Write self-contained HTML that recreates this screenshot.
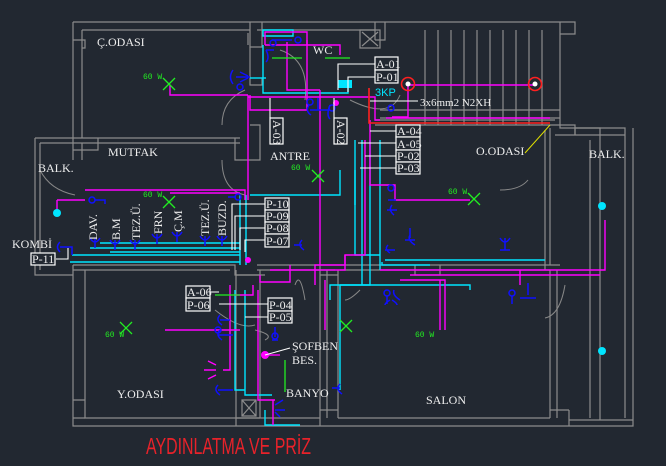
<!DOCTYPE html>
<html><head><meta charset="utf-8"><style>
html,body{margin:0;padding:0;background:#222831;}
svg{display:block}
.w{fill:none;stroke:#8c8c8c;stroke-width:1.2}
.m{fill:none;stroke:#ff00ff;stroke-width:1.4}
.c{fill:none;stroke:#00e5ff;stroke-width:1.4}
.b{fill:none;stroke:#1010ff;stroke-width:1.5}
.wt{fill:none;stroke:#fff;stroke-width:1.1}
.lb{fill:#222831;stroke:#fff;stroke-width:1.2}
text{font-family:"Liberation Serif",serif;fill:#eee;font-size:12px}
.bx{font-size:12px}
.g{font-family:"Liberation Mono",monospace;fill:#22ee22;font-size:8px}
</style></head><body>
<svg width="666" height="466" viewBox="0 0 666 466" xmlns="http://www.w3.org/2000/svg">
<rect width="666" height="466" fill="#222831"/>
<g class="w">
<path d="M73 22H575V34H560"/>
<path d="M82 30H250M257 30H375"/>
<path d="M73 22V138M82 30V138"/>
<path d="M73 40H85V48H82"/>
<path d="M250 22V47H262V22"/>
<path d="M250 47V85H262V78"/>
<path d="M35 138H240M40 143H240M73 138V160M82 143V160"/>
<path d="M35 138V275H73M40 143V270"/>
<path d="M73 150H98V138M235 138V160H260V125H250"/>
<path d="M73 265H235V275H265M73 270H230"/>
<path d="M73 265V426H633V128M85 270V418H320"/>
<path d="M73 400H85M73 418H85"/>
<path d="M236 270V426M260 275V418M236 418H260"/>
<path d="M236 275H260V270"/>
<path d="M248 33V45M375 22V40"/>
<path d="M375 125H575V135M560 22V128H625V418M555 135H625"/>
<path d="M575 135V128H600V420M590 140V418M569 420H633"/>
<path d="M550 128V265M545 130V270"/>
<path d="M257 265H335M257 270H335M320 265V426M327 270V418M338 270V418"/>
<path d="M335 265H560M340 270H550M415 265V275H440V265"/>
<path d="M550 270V418M557 270V418M569 410V426M338 418H550M550 410H569"/>
<path d="M320 275H338M320 410H338"/>
<path d="M375 40H385V22M360 30H380V48H360Z"/>
<path d="M362 32L378 46M378 32L362 46"/>
<path d="M242 400H256V416H242ZM242 400L256 416M256 400L242 416"/>
<path d="M375 120H555"/>
</g>
<g class="w">
<path d="M425 30V125M438 30V125M451 30V125M464 30V125M477 30V125M490 30V125M503 30V125M516 30V125M529 30V125M542 30V125"/>
<path d="M380 110H560M380 118H560"/>
</g>
<g fill="none" stroke="#888" stroke-width="1">
<path d="M222 125Q222 100 245 90"/>
<path d="M222 160Q222 190 245 195"/>
<path d="M40 170Q50 190 75 195"/>
<path d="M280 50Q310 60 305 100"/>
<path d="M350 100Q390 120 400 95"/>
<path d="M500 190Q520 190 528 180"/>
<path d="M360 290Q350 300 345 300"/>
<path d="M265 340Q275 335 255 330"/>
<path d="M565 285Q560 315 545 318"/>
<path d="M215 310Q240 330 255 325"/>
<path d="M305 300Q300 270 295 285"/>
</g>
<g class="c">
<path d="M263 36H293V30H263Z"/>
<path d="M263 45V93H348V80"/>
<path d="M250 78H266"/>
<path d="M250 195H340V170"/>
<path d="M240 195V265M246 195V265"/>
<path d="M70 262H240M72 255H240M90 248H240M100 243H240M110 252H240"/>
<path d="M355 140V205M362 140V285M370 140V285H330V300"/>
<path d="M380 140V270"/>
<path d="M382 262V265H430"/>
<path d="M385 260H545"/>
<path d="M340 285H470V290"/>
<path d="M235 290V390H245M245 290V395H272"/>
<path d="M265 410V425H300"/>
<path d="M340 285V390"/>
<path d="M355 170V255H380"/>
</g>
<path d="M338 80H352V88H338Z" fill="#00e5ff"/>
<text x="375" y="96" style="fill:#00e5ff;font-family:'Liberation Sans',sans-serif;font-size:11px">3KP</text>
<g class="m">
<path d="M265 45V32H307V45"/>
<path d="M265 45H340V55"/>
<path d="M287 42V90H320"/>
<path d="M307 40V110H250V95"/>
<path d="M170 85V95H248"/>
<path d="M248 95V200"/>
<path d="M248 97H375V120H380"/>
<path d="M320 90V115H320V265"/>
<path d="M410 85H535"/>
<path d="M408 85V117H392"/>
<path d="M370 120V185H395V200H470"/>
<path d="M85 190H245V200"/>
<path d="M57 200H85"/>
<path d="M57 200V215"/>
<path d="M170 193H240"/>
<path d="M386 118H550"/>
<path d="M365 140V255H345V265H315V285"/>
<path d="M260 275V282H290V265"/>
<path d="M345 255V270H270"/>
<path d="M253 285V295H235"/>
<path d="M230 285V370H223"/>
<path d="M325 280V330"/>
<path d="M380 270H605V220"/>
<path d="M410 275H600"/>
<path d="M400 280H445V330"/>
<path d="M165 330H240"/>
<path d="M258 290V400H275"/>
<path d="M265 355H280"/>
<path d="M273 400V425"/>
<path d="M520 270V285"/>
<path d="M440 280V330"/>
</g>
<circle cx="265" cy="355" r="4" fill="#ff00ff"/>
<circle cx="336" cy="103" r="3" fill="#ff00ff"/>
<circle cx="248" cy="260" r="3" fill="#ff00ff"/>
<g fill="none" stroke="#ff2020" stroke-width="1.6">
<path d="M369 88V123H550"/>
<circle cx="408" cy="84" r="6.5"/>
<circle cx="535" cy="84" r="6.5"/>
</g>
<circle cx="408" cy="84" r="2.5" fill="#fff"/>
<circle cx="535" cy="84" r="2.5" fill="#fff"/>
<path d="M550 125L525 153" stroke="#e0e000" stroke-width="1" fill="none"/>
<g class="b">
<path d="M240 72l8 4M240 82l8-4M236 77h14M233 70q-5 7 0 14"/>
<circle cx="240" cy="87" r="3"/>
<path d="M272 40h20M274 50h-8M266 50q4 8 0 12"/>
<circle cx="273" cy="43" r="3"/><circle cx="298" cy="40" r="3"/>
<path d="M309 105q-4 6 2 10M318 98v12M330 105q-4 10 0 14M310 110h20"/>
<circle cx="310" cy="102" r="3"/><circle cx="332" cy="108" r="3"/>
<circle cx="391" cy="188" r="3"/><path d="M388 200h8M392 205q-4 5 2 10M387 210h10"/>
<path d="M388 245q-4 4 2 8M385 250h10"/>
<circle cx="92" cy="200" r="3"/><path d="M95 200h10v4"/>
<circle cx="238" cy="197" r="3"/><path d="M228 197h8"/>
<path d="M90 238q5 8 10 0M95 238v10M110 240q5 8 10 0M115 240v10M130 240q5 8 10 0M135 240v10M152 234q5 8 10 0M157 234v10M172 232q5 8 10 0M177 232v10M200 236q5 8 10 0M205 236v10M217 236q5 8 10 0M222 236v10"/>
<path d="M60 242q-5 5 0 10M60 247h12v8"/>
<path d="M220 315q-5 5 2 10M220 320h10M220 330q-5 5 2 10M218 335h15"/>
<circle cx="218" cy="330" r="3"/>
<path d="M218 385q-5 5 2 10M218 390h15"/>
<path d="M275 327v10M272 340h6"/>
<circle cx="275" cy="336" r="3"/>
<path d="M275 405l8-5M275 410h10M275 412l5 5"/>
<path d="M340 384q-5 5 2 10M340 388h-8"/>
<path d="M302 240q-5 5 2 10M302 245h-8"/>
<path d="M410 228v10M410 235q-3 5 5 10M405 240h10"/>
<path d="M500 238q5 8 10 0M505 238v12M500 250h10"/>
<path d="M390 300q-5 3 -5 5M392 300q5 3 5 5"/>
<path d="M400 300q-8-5 -6 -10"/>
<circle cx="387" cy="293" r="3"/><path d="M387 296v8"/>
<path d="M528 283v12M520 298h16"/><circle cx="512" cy="293" r="3"/><path d="M512 296v8"/>
<circle cx="391" cy="108" r="3"/>
<path d="M216 365l-8-4M216 375l-8 4M216 370h-12" stroke="#ff00ff"/>
</g>
<circle cx="57" cy="213" r="4" fill="#00e5ff"/>
<circle cx="602" cy="206" r="4" fill="#00e5ff"/>
<circle cx="602" cy="351" r="4" fill="#00e5ff"/>
<g stroke="#22ee22" stroke-width="1.3" fill="none">
<path d="M163 78l12 12M175 78l-12 12"/>
<path d="M163 196l12 12M175 196l-12 12"/>
<path d="M312 170l12 12M324 170l-12 12"/>
<path d="M468 193l12 12M480 193l-12 12"/>
<path d="M120 322l12 12M132 322l-12 12"/>
<path d="M340 320l12 12M352 320l-12 12"/>
<path d="M272 58h30M325 58h25M215 295h25M285 360v32"/>
</g>
<text class="g" x="143" y="79">60 W</text>
<text class="g" x="143" y="197">60 W</text>
<text class="g" x="291" y="170">60 W</text>
<text class="g" x="448" y="194">60 W</text>
<text class="g" x="105" y="337">60 W</text>
<text class="g" x="415" y="337">60 W</text>
<g class="wt">
<path d="M375 64H338V90M375 77H348V92"/>
<path d="M396 131H370M396 143H358M396 156H365M396 168H360"/>
<path d="M265 204H232V250M265 216H235V250M265 228H240V250M265 240H245V252"/>
<path d="M56 259H68V248"/>
<path d="M219 292H190M219 304H250M268 304H250M268 317H245"/>
<path d="M270 118V98M334 118V98"/>
<path d="M370 101H418"/>
<path d="M290 348L265 355"/>
</g>
<g class="lb">
<rect x="375" y="57" width="23" height="13"/><rect x="375" y="70" width="23" height="13"/>
<rect x="396" y="125" width="24" height="12"/><rect x="396" y="137" width="24" height="13"/>
<rect x="396" y="150" width="24" height="12"/><rect x="396" y="162" width="24" height="12"/>
<rect x="265" y="198" width="24" height="12"/><rect x="265" y="210" width="24" height="12"/>
<rect x="265" y="222" width="24" height="12"/><rect x="265" y="234" width="24" height="13"/>
<rect x="31" y="253" width="24" height="12"/>
<rect x="186" y="286" width="24" height="12"/><rect x="186" y="298" width="24" height="13"/>
<rect x="268" y="298" width="24" height="13"/><rect x="268" y="311" width="24" height="12"/>
<rect x="270" y="118" width="13" height="26"/><rect x="334" y="118" width="13" height="26"/>
</g>
<g class="bx" style="font-size:11px">
<text x="376" y="68">A-01</text><text x="376" y="81">P-01</text>
<text x="397" y="135">A-04</text><text x="397" y="148">A-05</text>
<text x="397" y="160">P-02</text><text x="397" y="172">P-03</text>
<text x="266" y="208">P-10</text><text x="266" y="220">P-09</text>
<text x="266" y="232">P-08</text><text x="266" y="245">P-07</text>
<text x="32" y="263">P-11</text>
<text x="187" y="296">A-06</text><text x="187" y="309">P-06</text>
<text x="269" y="309">P-04</text><text x="269" y="321">P-05</text>
<text transform="translate(273,120) rotate(90)">A-03</text>
<text transform="translate(337,120) rotate(90)">A-02</text>
</g>
<g style="font-size:11px">
<text transform="translate(97,240) rotate(-90)">DAV.</text>
<text transform="translate(120,240) rotate(-90)">B.M</text>
<text transform="translate(140,240) rotate(-90)">TEZ.Ü.</text>
<text transform="translate(162,234) rotate(-90)">FRN</text>
<text transform="translate(182,232) rotate(-90)">Ç.M</text>
<text transform="translate(209,236) rotate(-90)">TEZ.Ü.</text>
<text transform="translate(226,236) rotate(-90)">BUZD.</text>
</g>
<text x="97" y="46">Ç.ODASI</text>
<text x="313" y="54">WC</text>
<text x="108" y="156">MUTFAK</text>
<text x="38" y="172">BALK.</text>
<text x="270" y="160">ANTRE</text>
<text x="476" y="155">O.ODASI</text>
<text x="589" y="158">BALK.</text>
<text x="420" y="106" style="font-size:11px">3x6mm2 N2XH</text>
<text x="12" y="248">KOMBİ</text>
<text x="292" y="350">ŞOFBEN</text>
<text x="292" y="364">BES.</text>
<text x="117" y="398">Y.ODASI</text>
<text x="286" y="397">BANYO</text>
<text x="426" y="404">SALON</text>
<text x="146" y="454" textLength="165" lengthAdjust="spacingAndGlyphs" style="font-family:'Liberation Sans',sans-serif;font-size:23px;fill:#e8222a">AYDINLATMA VE PRİZ</text>
</svg>
</body></html>
